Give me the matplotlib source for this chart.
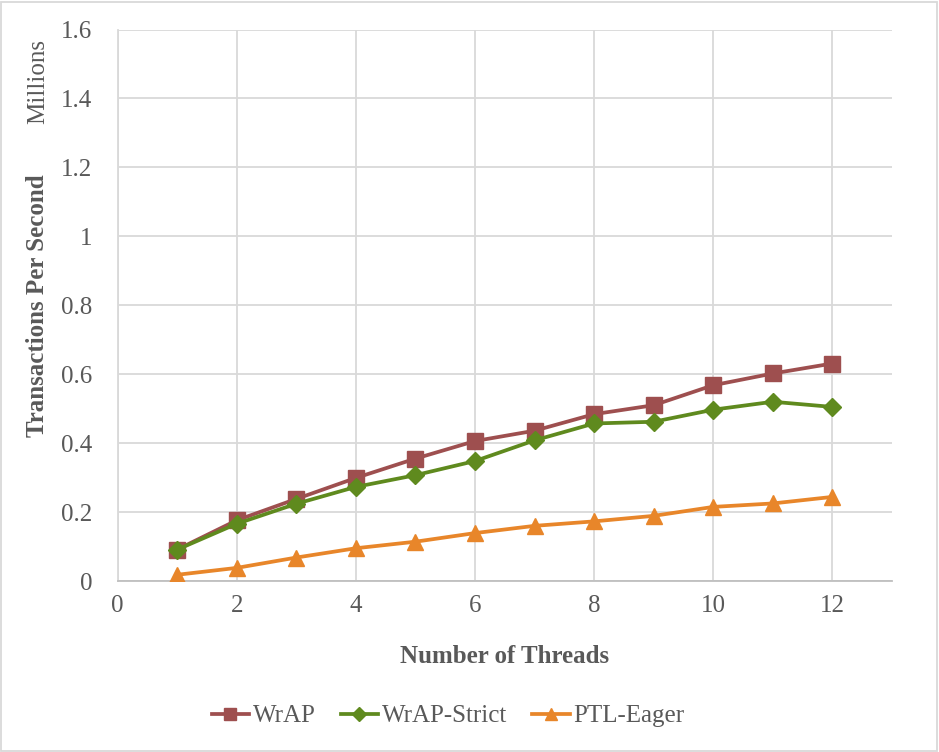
import matplotlib.pyplot as plt
import matplotlib.patches as mpatches

THREADS = [1, 2, 3, 4, 5, 6, 7, 8, 9, 10, 11, 12]
WRAP = [0.091, 0.176, 0.238, 0.299, 0.355, 0.406, 0.436, 0.484, 0.510, 0.568, 0.602, 0.631]
WRAP_STRICT = [0.091, 0.166, 0.224, 0.273, 0.307, 0.348, 0.408, 0.457, 0.462, 0.497, 0.520, 0.505]
PTL_EAGER = [0.018, 0.038, 0.068, 0.095, 0.114, 0.139, 0.160, 0.173, 0.189, 0.215, 0.225, 0.244]
XTICKS = [0, 2, 4, 6, 8, 10, 12]
YTICKS = [0, 0.2, 0.4, 0.6, 0.8, 1.0, 1.2, 1.4, 1.6]
YTICKLABELS = ["0", "0.2", "0.4", "0.6", "0.8", "1", "1.2", "1.4", "1.6"]

TEXT = "#595959"
GRID = "#D9D9D9"
FONT = "Liberation Serif"
FS = 18

plt.rcParams["font.family"] = [FONT, "DejaVu Serif"]

fig = plt.figure(figsize=(9.39, 7.52), dpi=100)
W, H = 939, 752
ax = fig.add_axes([117.5 / W, 1 - 581 / H, (892 - 117.5) / W, (581 - 29.5) / H])

series = [
    ("WrAP", WRAP, "#9E4F4F", "s", 11),
    ("WrAP-Strict", WRAP_STRICT, "#5F8A1E", "D", 9),
    ("PTL-Eager", PTL_EAGER, "#E8862A", "^", 12),
]
for name, vals, col, mk, ms in series:
    ax.plot(THREADS, vals, color=col, lw=2.7, marker=mk, ms=ms, label=name,
            markeredgecolor=col, zorder=3)

ax.set_xlim(0, 13)
ax.set_ylim(0, 1.6)
ax.set_xticks(XTICKS)
ax.set_yticks(YTICKS)
ax.set_yticklabels(YTICKLABELS)
ax.grid(True, color=GRID, lw=1.3)
ax.set_axisbelow(True)
for s in ["top", "right"]:
    ax.spines[s].set_visible(False)
ax.spines["left"].set_color(GRID)
ax.spines["left"].set_linewidth(1.3)
ax.spines["bottom"].set_color("#BFBFBF")
ax.spines["bottom"].set_linewidth(1.3)
ax.tick_params(length=0, labelsize=FS, colors=TEXT)
ax.tick_params(axis="y", pad=18)
ax.tick_params(axis="x", pad=10)

ax.set_xlabel("Number of Threads", fontsize=FS, fontweight="bold", color=TEXT, labelpad=20)
fig.text(38 / W, 1 - 306 / H, "Transactions Per Second", rotation=90, fontsize=FS,
         fontweight="bold", color=TEXT, ha="center", va="center")
fig.text(38 / W, 1 - 82 / H, "Millions", rotation=90, fontsize=FS,
         color=TEXT, ha="center", va="center")

fig.legend(loc="center", bbox_to_anchor=(448 / W, 1 - 716 / H), ncol=3,
           frameon=False, fontsize=FS, labelcolor=TEXT, handlelength=1.5,
           handletextpad=0.15, columnspacing=1.0, markerscale=0.75)

fig.patches.append(mpatches.Rectangle((1 / W, 1 / H), 1 - 3 / W, 1 - 3 / H,
                                      transform=fig.transFigure, fill=False,
                                      edgecolor=GRID, lw=1.3))

fig.savefig("out.png", dpi=100)
